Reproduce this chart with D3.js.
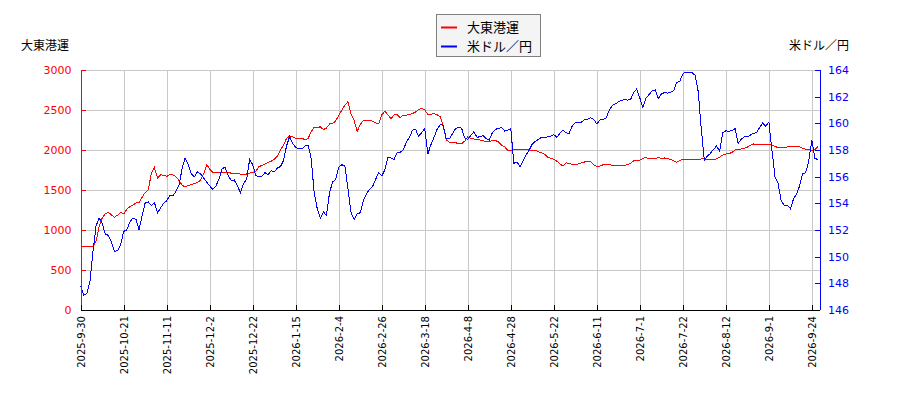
<!DOCTYPE html>
<html><head><meta charset="utf-8">
<script src="https://cdn.jsdelivr.net/npm/d3@7/dist/d3.min.js"></script>
<style>
html,body{margin:0;padding:0;background:#fff;}
svg{display:block;font-family:"DejaVu Sans","Noto Sans CJK JP",sans-serif;}
</style></head>
<body>
<svg id="c" width="900" height="400"></svg>
<script>
const seriesNames = ["大東港運", "米ドル／円"];
const tickLabels = ["2025-9-30","2025-10-21","2025-11-11","2025-12-2","2025-12-22","2026-1-15","2026-2-4","2026-2-26","2026-3-18","2026-4-8","2026-4-28","2026-5-22","2026-6-11","2026-7-1","2026-7-22","2026-8-12","2026-9-1","2026-9-24"];
const tickIndex = [0,14,28,42,56,70,84,98,112,126,140,154,168,182,196,210,224,238];
const stock = [790,790,790,790,800,860,1040,1150,1205,1221,1190,1160,1185,1220,1200,1260,1290,1310,1340,1340,
1410,1470,1500,1710,1780,1650,1690,1685,1670,1692,1690,1665,1620,1560,1540,1558,1565,1580,1595,1620,
1700,1817,1760,1720,1713,1713,1717,1720,1721,1710,1708,1702,1700,1700,1700,1712,1720,1735,1790,1808,
1825,1845,1860,1885,1920,2000,2060,2146,2171,2165,2142,2145,2146,2130,2140,2230,2283,2280,2290,2255,
2275,2325,2330,2365,2430,2500,2560,2604,2450,2370,2233,2320,2367,2371,2368,2360,2340,2330,2440,2483,
2440,2390,2440,2445,2405,2435,2435,2442,2455,2475,2505,2521,2500,2445,2445,2458,2440,2420,2300,2125,
2100,2095,2090,2082,2080,2110,2165,2145,2138,2133,2125,2117,2105,2100,2125,2120,2100,2060,2040,1995,
1990,2010,2005,2008,2006,2004,2000,1996,1996,1980,1963,1948,1910,1895,1885,1860,1825,1800,1840,1832,
1820,1817,1825,1840,1850,1854,1852,1815,1796,1800,1815,1813,1815,1810,1808,1812,1808,1808,1815,1835,
1865,1871,1875,1895,1905,1892,1892,1893,1904,1898,1900,1896,1880,1867,1846,1870,1879,1879,1877,1875,
1878,1883,1888,1888,1879,1883,1883,1888,1910,1938,1950,1954,1970,2000,2010,2013,2020,2035,2060,2075,
2070,2067,2063,2072,2075,2065,2045,2030,2027,2029,2038,2050,2046,2044,2040,2020,2008,2005,1996,2005,2042];
const usdjpy = [147.8,147.1,147.25,148.1,150.4,152.3,152.9,152.5,151.7,151.6,151.1,150.4,150.45,150.9,151.9,152.0,152.6,152.9,152.8,152.0,
153.1,154.05,154.1,153.85,154.06,153.3,153.65,154.0,154.2,154.6,154.55,154.9,155.35,156.6,157.4,156.9,156.2,156.0,156.35,156.2,
155.9,155.6,155.3,155.05,155.3,155.8,156.6,156.7,156.1,155.7,155.75,155.3,154.8,155.5,155.8,157.3,156.9,156.1,156.0,156.05,
156.3,156.15,156.45,156.35,156.65,156.75,157.2,158.3,159.0,158.5,158.2,158.1,158.08,158.3,158.38,157.4,154.8,153.6,152.9,153.35,
153.1,154.8,155.6,155.8,156.7,156.9,156.8,155.1,153.3,152.78,153.2,153.3,154.2,154.7,155.05,155.25,155.8,156.3,156.05,156.5,
157.45,157.4,157.3,157.8,157.83,158.0,158.6,158.95,159.48,159.55,159.03,159.3,159.6,157.7,158.4,158.95,159.55,159.9,159.85,158.83,
158.85,159.2,159.6,159.7,159.63,158.9,158.8,159.1,159.38,158.95,159.0,159.08,158.85,158.75,159.3,159.55,159.62,159.7,159.42,159.5,
159.6,157.0,157.1,156.75,157.2,157.65,158.0,158.45,158.65,158.8,158.95,158.9,159.0,159.05,159.15,158.95,159.25,159.5,159.28,159.25,
159.8,160.05,160.1,160.1,160.28,160.3,160.42,160.3,159.95,160.25,160.3,160.38,160.95,161.33,161.45,161.6,161.72,161.78,161.74,161.8,
162.3,162.58,161.9,161.2,161.9,162.15,162.45,162.5,161.85,162.2,162.3,162.27,162.32,162.45,163.05,163.15,163.7,163.85,163.83,163.8,
163.6,162.4,159.6,157.25,157.55,157.75,158.05,158.3,157.9,159.28,159.45,159.4,159.45,159.6,158.5,158.8,159.0,158.98,159.12,159.25,
159.3,159.7,160.03,159.78,160.1,158.0,156.0,155.5,154.2,153.85,153.85,153.6,154.3,154.7,155.3,156.2,156.3,157.2,158.75,157.35,157.3];
const leftMajor = [0,500,1000,1500,2000,2500,3000];
const rightMajor = [146,148,150,152,154,156,158,160,162,164];

const svg = d3.select("#c");
const L = 80.5, R = 820, T = 70, B = 310;
const x = d3.scaleLinear().domain([0, 240]).range([80.7, 818]);
const yL = d3.scaleLinear().domain([0, 3000]).range([B, T]);
const yR = d3.scaleLinear().domain([146, 164]).range([B, T]);

// grid
const grid = svg.append("g").attr("stroke", "#c8c8c8").attr("stroke-width", 1).attr("shape-rendering", "crispEdges");
grid.selectAll("line.h").data(leftMajor.slice(1)).join("line")
  .attr("x1", L).attr("x2", R).attr("y1", d => Math.round(yL(d)) + 0.5).attr("y2", d => Math.round(yL(d)) + 0.5);
grid.selectAll("line.v").data(tickIndex.slice(1)).join("line")
  .attr("y1", T).attr("y2", B).attr("x1", d => Math.round(x(d)) + 0.5).attr("x2", d => Math.round(x(d)) + 0.5);

// lines
const lineL = d3.line().x((d, i) => x(i)).y(d => yL(d));
const lineR = d3.line().x((d, i) => x(i)).y(d => yR(d));
svg.append("path").datum(stock).attr("d", lineL).attr("fill", "none").attr("stroke", "#ff0000").attr("stroke-width", 1).attr("shape-rendering", "crispEdges");
svg.append("path").datum(usdjpy).attr("d", lineR).attr("fill", "none").attr("stroke", "#0000ff").attr("stroke-width", 1).attr("shape-rendering", "crispEdges");

// left axis
const gL = svg.append("g").attr("transform", `translate(${L},0)`);
gL.call(d3.axisLeft(yL).tickValues(d3.range(0, 3001, 100)).tickSize(-3).tickFormat(""));
gL.call(d3.axisLeft(yL).tickValues(leftMajor).tickSize(-5).tickPadding(9).tickFormat(d3.format("d")));
gL.selectAll("path,line").attr("stroke", "#ff0000").attr("shape-rendering", "crispEdges");
gL.selectAll("text").attr("fill", "#ff0000").style("font-size", "11px").style("font-family", "DejaVu Sans");
gL.select(".domain").attr("d", `M0.5,${B}V${T}`);

// right axis
const gR = svg.append("g").attr("transform", `translate(${R},0)`);
gR.call(d3.axisRight(yR).tickValues(d3.range(146, 164.1, 1)).tickSize(-3).tickFormat(""));
gR.call(d3.axisRight(yR).tickValues(rightMajor).tickSize(-5).tickPadding(8).tickFormat(d3.format("d")));
gR.selectAll("path,line").attr("stroke", "#0000ff").attr("shape-rendering", "crispEdges");
gR.selectAll("text").attr("fill", "#0000ff").style("font-size", "11px").style("font-family", "DejaVu Sans");
gR.select(".domain").attr("d", `M0.5,${B}V${T}`);

// bottom axis
const gB = svg.append("g").attr("transform", `translate(0,${B})`);
gB.call(d3.axisBottom(x).tickValues(tickIndex).tickSize(-5).tickFormat((d, i) => tickLabels[i]));
gB.selectAll("path,line").attr("stroke", "#000").attr("shape-rendering", "crispEdges");
gB.select(".domain").attr("d", `M${L},0.5H${R}`);
gB.selectAll(".tick line").attr("transform", "translate(0.5,0)");
gB.selectAll("text")
  .attr("transform", "rotate(-90)")
  .attr("x", -6).attr("y", 0).attr("dy", "0.35em")
  .attr("text-anchor", "end")
  .attr("fill", "#000").style("font-size", "10px").style("font-family", "DejaVu Sans");

// axis titles
svg.append("text").attr("x", 21).attr("y", 50).text(seriesNames[0])
  .style("font-size", "12px").style("font-family", "Noto Sans CJK JP").attr("fill", "#000");
svg.append("text").attr("x", 849).attr("y", 50).attr("text-anchor", "end").text(seriesNames[1])
  .style("font-size", "12px").style("font-family", "Noto Sans CJK JP").attr("fill", "#000");

// legend
const lg = svg.append("g");
lg.append("rect").attr("x", 436.5).attr("y", 14.5).attr("width", 104).attr("height", 42)
  .attr("fill", "#f4f4f4").attr("stroke", "#808080").attr("stroke-width", 1);
const colors = ["#ff0000", "#0000ff"];
seriesNames.forEach((n, i) => {
  const yy = 27 + i * 19;
  lg.append("line").attr("x1", 441).attr("x2", 457).attr("y1", yy + 0.5).attr("y2", yy + 0.5)
    .attr("stroke", colors[i]).attr("stroke-width", 2);
  lg.append("text").attr("x", 467).attr("y", yy + 5).text(n)
    .style("font-size", "13px").style("font-family", "Noto Sans CJK JP").attr("fill", "#000");
});
</script>
</body></html>
